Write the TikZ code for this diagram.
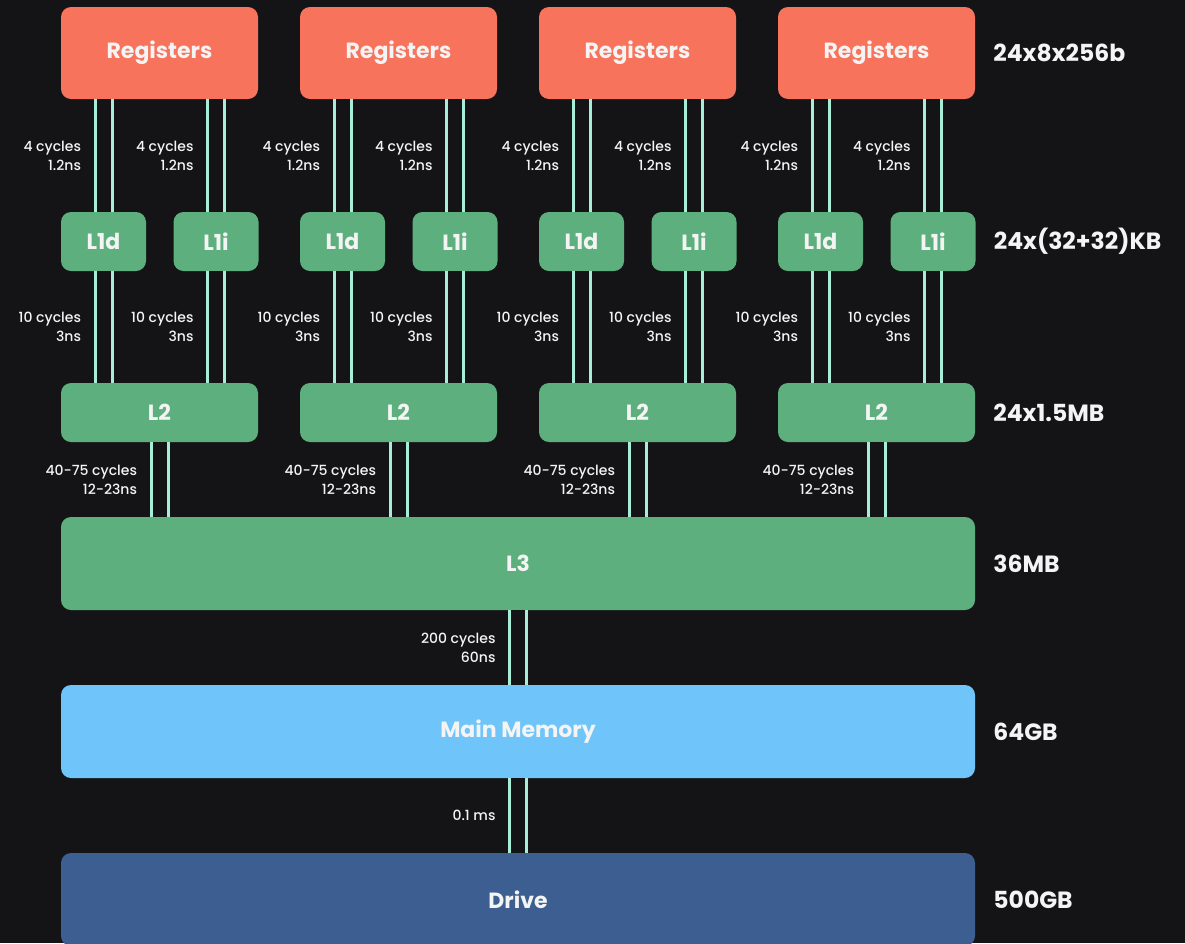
\documentclass[tikz,border=0pt]{standalone}
\usepackage{fontspec}
\setmainfont{Poppins}
\newfontfamily\memmid{Poppins Medium}
\usetikzlibrary{positioning}
\definecolor{memBack}{HTML}{141417}
\definecolor{memReg}{HTML}{F8735B}
\definecolor{memCache}{HTML}{5DB07E}
\definecolor{memRam}{HTML}{6FC5FA}
\definecolor{memDisk}{HTML}{3C5E90}
\definecolor{memBus}{HTML}{A8EDD5}
\definecolor{memText}{HTML}{F4F4F4}
\tikzset{
  mem box/.style={rounded corners=10pt, inner sep=0pt, text=memText, font=\bfseries\fontsize{22}{26}\selectfont},
  mem reg/.style={mem box, fill=memReg, minimum width=197pt, minimum height=92pt},
  mem l1/.style={mem box, fill=memCache, minimum width=85pt, minimum height=59pt},
  mem l2/.style={mem box, fill=memCache, minimum width=197pt, minimum height=59pt},
  mem wide/.style={mem box, minimum width=914pt, minimum height=93pt},
  mem bus/.style={draw=memBus, line width=3pt, double=memBack, double distance=14pt},
  mem lat/.style={left=21pt, inner sep=0pt, align=right, text=memText, font=\memmid\fontsize{14}{19}\selectfont},
  mem size/.style={inner sep=0pt, text=memText, font=\bfseries\fontsize{23.5}{27}\selectfont},
}

\begin{document}
\begin{tikzpicture}[x=1pt, y=1pt]
  \useasboundingbox (0,0) rectangle (1185,-943);
  \fill[memBack] (0,0) rectangle (1185,-943);

  % One column per core
  \foreach \i [evaluate=\i as \cx using 159.5+239*\i] in {0,...,3} {
    \node[mem reg] (reg\i) at (\cx,-53) {Registers};
    \node[mem l1] (l1d\i) at (\cx-56,-241.5) {L1d};
    \node[mem l1] (l1i\i) at (\cx+56.5,-241.5) {L1i};
    \node[mem l2] (l2\i) at (\cx,-412.5) {L2};
  }

  % Shared levels
  \node[mem wide, fill=memCache] (l3) at (518,-563.5) {L3};
  \node[mem wide, fill=memRam] (ram) at (518,-731.5) {Main Memory};
  \node[mem wide, fill=memDisk] (drive) at (518,-899.5) {Drive};

  % Buses with latencies
  \foreach \i in {0,...,3} {
    \foreach \c in {l1d,l1i} {
      \draw[mem bus] (\c\i.north |- reg\i.south) -- node[mem lat] {4 cycles\\1.2ns} (\c\i.north);
      \draw[mem bus] (\c\i.south) -- node[mem lat] {10 cycles\\3ns} (\c\i.south |- l2\i.north);
    }
    \draw[mem bus] (l2\i.south) -- node[mem lat] {40-75 cycles\\12-23ns} (l2\i.south |- l3.north);
  }
  \draw[mem bus] (l3.south) -- node[mem lat] {200 cycles\\60ns} (ram.north);
  \draw[mem bus] (ram.south) -- node[mem lat] {0.1 ms} (drive.north);

  % Sizes
  \node[mem size, right=18pt of reg3] {24x8x256b};
  \node[mem size, right=18pt of l1i3] {24x(32+32)KB};
  \node[mem size, right=18pt of l23] {24x1.5MB};
  \node[mem size, right=18pt of l3] {36MB};
  \node[mem size, right=18pt of ram] {64GB};
  \node[mem size, right=18pt of drive] {500GB};
\end{tikzpicture}
\end{document}
